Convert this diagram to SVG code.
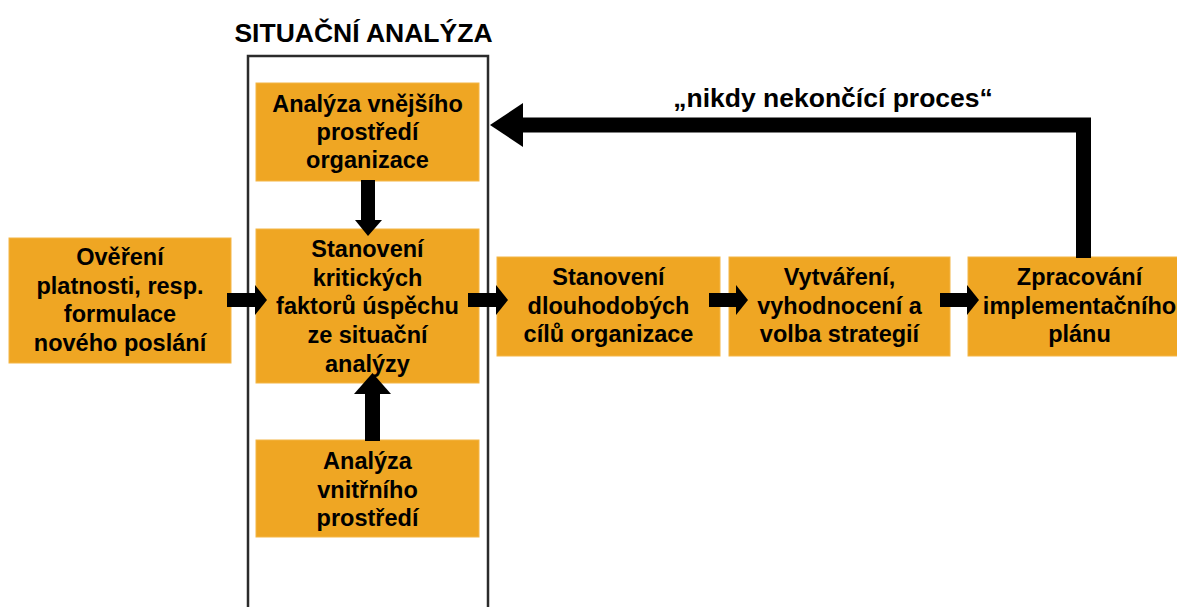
<svg xmlns="http://www.w3.org/2000/svg" width="1177" height="607" viewBox="0 0 1177 607">
  <style>
    .box { fill: #EFA623; stroke: #F4B646; stroke-width: 1; }
    .lbl { font-family: "Liberation Sans", Arial, sans-serif; font-weight: bold; font-size: 23.5px; fill: #000; text-anchor: middle; }
    .big { font-family: "Liberation Sans", Arial, sans-serif; font-weight: bold; font-size: 26.5px; fill: #000; text-anchor: middle; }
    .shaft { fill: #000; }
  </style>

  <rect width="1177" height="607" fill="#fff"/>

  <!-- frame of the situational analysis stage -->
  <g id="situacni-analyza">
    <rect x="248" y="56" width="240" height="570" fill="none" stroke="#2b2b2b" stroke-width="2.5"/>
    <text class="big" x="363.5" y="42">SITUAČNÍ ANALÝZA</text>
  </g>

  <g id="vnejsi-prostredi">
    <rect class="box" x="256" y="83" width="223" height="98"/>
    <text class="lbl" x="367.5" y="112">Analýza vnějšího</text>
    <text class="lbl" x="367.5" y="140">prostředí</text>
    <text class="lbl" x="367.5" y="168">organizace</text>
  </g>

  <g id="overeni-poslani">
    <rect class="box" x="9" y="238" width="222" height="125"/>
    <text class="lbl" x="120" y="265">Ověření</text>
    <text class="lbl" x="120" y="293.7">platnosti, resp.</text>
    <text class="lbl" x="120" y="322.3">formulace</text>
    <text class="lbl" x="120" y="351">nového poslání</text>
  </g>

  <g id="kriticke-faktory">
    <rect class="box" x="256" y="229" width="223" height="154"/>
    <text class="lbl" x="367.5" y="257">Stanovení</text>
    <text class="lbl" x="367.5" y="285.7">kritických</text>
    <text class="lbl" x="367.5" y="314.3">faktorů úspěchu</text>
    <text class="lbl" x="367.5" y="343">ze situační</text>
    <text class="lbl" x="367.5" y="371.7">analýzy</text>
  </g>

  <g id="vnitrni-prostredi">
    <rect class="box" x="256" y="440" width="223" height="97"/>
    <text class="lbl" x="367.5" y="469">Analýza</text>
    <text class="lbl" x="367.5" y="497.5">vnitřního</text>
    <text class="lbl" x="367.5" y="526">prostředí</text>
  </g>

  <g id="dlouhodobe-cile">
    <rect class="box" x="497" y="257" width="223" height="99"/>
    <text class="lbl" x="608.5" y="285">Stanovení</text>
    <text class="lbl" x="608.5" y="313.5">dlouhodobých</text>
    <text class="lbl" x="608.5" y="342">cílů organizace</text>
  </g>

  <g id="volba-strategii">
    <rect class="box" x="729" y="257" width="221" height="99"/>
    <text class="lbl" x="839.5" y="285">Vytváření,</text>
    <text class="lbl" x="839.5" y="313.5">vyhodnocení a</text>
    <text class="lbl" x="839.5" y="342">volba strategií</text>
  </g>

  <g id="implementacni-plan">
    <rect class="box" x="968" y="257" width="223" height="99"/>
    <text class="lbl" x="1079.5" y="285">Zpracování</text>
    <text class="lbl" x="1079.5" y="313.5">implementačního</text>
    <text class="lbl" x="1079.5" y="342">plánu</text>
  </g>

  <!-- connectors, drawn over the box edges -->
  <g id="connectors">
    <!-- overeni -> stanoveni kritickych faktoru -->
    <rect class="shaft" x="227" y="293" width="30" height="14"/>
    <polygon points="255,285 267,300 255,315"/>
    <!-- kriticke faktory -> dlouhodobe cile -->
    <rect class="shaft" x="468" y="293" width="30" height="14"/>
    <polygon points="496,285 508,300 496,315"/>
    <!-- dlouhodobe cile -> strategie -->
    <rect class="shaft" x="709" y="293" width="29" height="14"/>
    <polygon points="736,285 748,300 736,315"/>
    <!-- strategie -> implementacni plan -->
    <rect class="shaft" x="940" y="293" width="29" height="14"/>
    <polygon points="967,285 979,300 967,315"/>
    <!-- vnejsi prostredi -> kriticke faktory -->
    <rect class="shaft" x="361" y="180" width="14" height="42"/>
    <polygon points="355,220 382,220 368,236"/>
    <!-- vnitrni prostredi -> kriticke faktory -->
    <rect class="shaft" x="365" y="392" width="15" height="49"/>
    <polygon points="354,394 391,394 372.5,373"/>
    <!-- feedback loop: implementation plan back to the external analysis -->
    <polyline points="1083.5,258 1083.5,125 521,125" fill="none" stroke="#000" stroke-width="15" stroke-linejoin="miter"/>
    <polygon points="523,103 523,147 490,125"/>
    <text class="big" x="833" y="107">„nikdy nekončící proces“</text>
  </g>
</svg>
